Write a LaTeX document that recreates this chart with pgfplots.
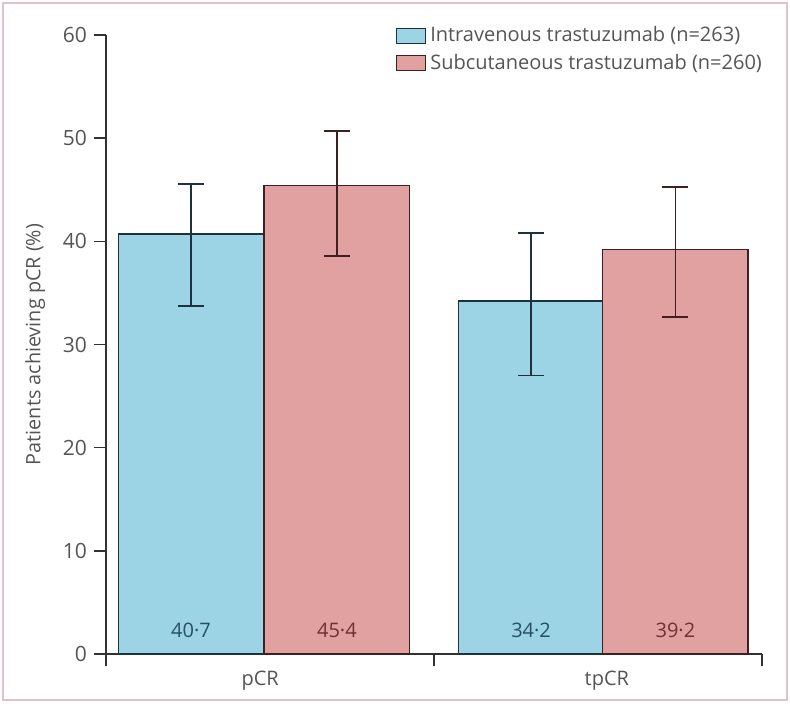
\documentclass[border=0pt]{standalone}
\usepackage{pgfplots}
\pgfplotsset{compat=1.18}
\usepackage{fontspec}
\setmainfont{Open Sans}
\definecolor{ivfill}{RGB}{156,212,230}
\definecolor{scfill}{RGB}{224,161,160}
\definecolor{ivedge}{RGB}{30,50,62}
\definecolor{scedge}{RGB}{62,32,32}
\definecolor{ivtxt}{RGB}{40,80,100}
\definecolor{sctxt}{RGB}{110,50,50}
\definecolor{framepink}{RGB}{226,192,206}
\definecolor{txt}{RGB}{85,85,85}
\definecolor{axiscol}{RGB}{50,50,50}
\begin{document}
\begin{tikzpicture}
\fill[white] (0pt,0pt) rectangle (395pt,-351.5pt);
\draw[framepink, line width=1pt] (1.5pt,-1.5pt) rectangle (393.5pt,-350pt);
\begin{axis}[
  at={(53pt,-327pt)}, anchor=south west,
  scale only axis, width=328pt, height=309.5pt,
  xmin=-0.5, xmax=1.5, ymin=0, ymax=60,
  axis lines*=left,
  axis line style={axiscol, line width=0.8pt},
  font=\fontsize{10}{12}\selectfont,
  /pgf/number format/assume math mode=true,
  ticklabel style={text=txt, font=\fontsize{10.5}{12}\selectfont},
  xtick={-0.5,0.5,1.5}, xticklabels={},
  extra x ticks={-0.03,1.027},
  extra x tick labels={pCR,tpCR},
  extra x tick style={major tick length=0pt, tick style={draw=none}, xticklabel style={yshift=-5pt, font=\fontsize{10}{12}\selectfont}},
  ytick={0,10,...,60},
  tick align=outside, major tick length=6pt,
  tick style={axiscol, line width=0.8pt},
  ylabel={Patients achieving pCR (\%)},
  ylabel style={at={(rel axis cs:-0.108,0.5)}, anchor=center, text=txt, font=\fontsize{9.9}{12}\selectfont},
  ybar, bar width=0.4436, bar shift=0pt,
  error bars/y dir=both, error bars/y explicit,
  legend cell align=left,
  legend style={at={(rel axis cs:0.432,1.027)}, anchor=north west, draw=none, fill=none,
    font=\fontsize{10}{12}\selectfont, text=txt, row sep=0.5pt},
  legend image code/.code={\draw[#1, line width=0.75pt] (0pt,-3.75pt) rectangle (14.5pt,3.75pt);},
]
\addplot[fill=ivfill, draw=ivedge, line width=0.7pt,
  error bars/error bar style={ivedge, line width=0.9pt},
  error bars/error mark options={rotate=90, mark size=6.5pt, ivedge, line width=0.9pt}]
  coordinates {
    (-0.241,40.7) += (0,4.85) -= (0,6.95)
    (0.796,34.2) += (0,6.6) -= (0,7.2)
  };
\addplot[fill=scfill, draw=scedge, line width=0.7pt,
  error bars/error bar style={scedge, line width=0.9pt},
  error bars/error mark options={rotate=90, mark size=6.5pt, scedge, line width=0.9pt}]
  coordinates {
    (0.204,45.4) += (0,5.3) -= (0,6.8)
    (1.236,39.2) += (0,6.1) -= (0,6.5)
  };
\legend{Intravenous trastuzumab (n=263), Subcutaneous trastuzumab (n=260)}
\node[text=ivtxt, font=\fontsize{10}{12}\selectfont] at (axis cs:-0.241,2.3) {40·7};
\node[text=sctxt, font=\fontsize{10}{12}\selectfont] at (axis cs:0.204,2.3) {45·4};
\node[text=ivtxt, font=\fontsize{10}{12}\selectfont] at (axis cs:0.796,2.3) {34·2};
\node[text=sctxt, font=\fontsize{10}{12}\selectfont] at (axis cs:1.236,2.3) {39·2};
\end{axis}
\end{tikzpicture}
\end{document}
